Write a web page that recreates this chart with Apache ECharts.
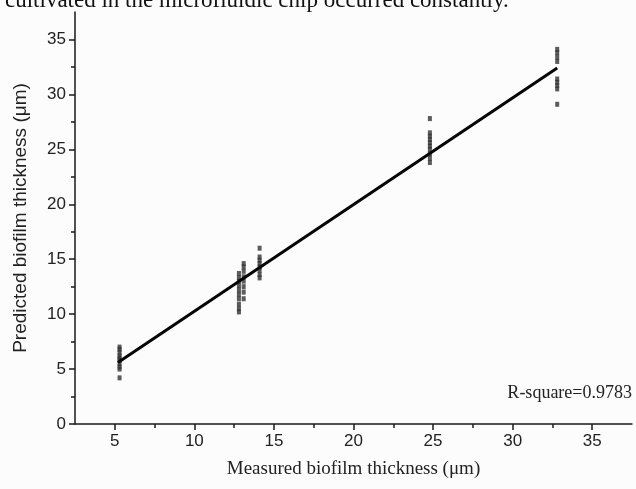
<!DOCTYPE html>
<html>
<head>
<meta charset="utf-8">
<script src="https://cdn.jsdelivr.net/npm/echarts@6/dist/echarts.min.js"></script>
<style>
  html, body { margin: 0; padding: 0; background: #fcfcfc; }
  #chart { width: 636px; height: 489px; }
</style>
</head>
<body>
<div id="chart"></div>
<script>
// measured thickness of each group (um) and the predicted values
const measured = [5.3, 12.8, 13.1, 14.1, 24.8, 32.8];
const predA = [7.0, 6.8, 6.5, 6.2, 6.0, 5.8, 5.5, 5.2, 5.0, 4.2];
const predB = [13.7, 13.3, 13.0, 12.6, 12.2, 11.8, 11.4, 10.9, 10.5, 10.2];
const predC = [14.6, 14.3, 13.9, 13.4, 13.0, 12.5, 12.0, 11.4];
const predD = [16.0, 15.2, 14.9, 14.6, 14.3, 14.0, 13.6, 13.3];
const predE = [27.8, 26.5, 26.2, 25.9, 25.6, 25.3, 25.0, 24.6, 24.2, 23.8];
const predF = [34.1, 33.8, 33.4, 33.0, 31.4, 31.1, 30.8, 30.5, 29.1];

// fitted line end points
const fitX = [5.2, 32.8];
const fitY = [5.6, 32.4];

const majorTicks = [5, 10, 15, 20, 25, 30, 35];
const minorX = [7.5, 12.5, 17.5, 22.5, 27.5, 32.5];
const minorY = [2.5, 7.5, 12.5, 17.5, 22.5, 27.5, 32.5];
const yMajor = [0, 5, 10, 15, 20, 25, 30, 35];

const groups = [predA, predB, predC, predD, predE, predF];
const points = [];
groups.forEach(function (g, i) {
  g.forEach(function (v) { points.push([measured[i], v]); });
});

const chart = echarts.init(document.getElementById('chart'));

const axisCol = '#1a1a1a';
const labelFont = { color: '#222', fontSize: 17, fontFamily: 'Liberation Sans, Arial, sans-serif' };

chart.setOption({
  backgroundColor: '#fcfcfc',
  animation: false,
  grid: { left: 75, right: 4, top: 12, bottom: 65 },
  graphic: [
    {
      type: 'text', left: 5, top: -11,
      style: {
        text: 'cultivated in the microfluidic chip occurred constantly.',
        font: '23px "Liberation Serif", serif', fill: '#111'
      }
    },
    {
      type: 'text', right: 4, top: 384,
      style: {
        text: 'R-square=0.9783',
        font: '18px "Liberation Serif", serif', fill: '#222'
      }
    }
  ],
  xAxis: [
    {
      type: 'value', min: 2.5, max: 37.5, position: 'bottom',
      name: 'Measured biofilm thickness (\u03bcm)',
      nameLocation: 'middle', nameGap: 36,
      nameTextStyle: { fontFamily: 'Liberation Serif, serif', fontSize: 19, color: '#222' },
      axisLine: { lineStyle: { color: axisCol, width: 1.5 } },
      axisTick: { show: true, length: 6, customValues: majorTicks, lineStyle: { color: axisCol, width: 1.5 } },
      axisLabel: Object.assign({ margin: 9, customValues: majorTicks }, labelFont),
      splitLine: { show: false }
    },
    {
      type: 'value', min: 2.5, max: 37.5, position: 'bottom',
      axisLine: { show: false },
      axisTick: { show: true, length: 4, customValues: minorX, lineStyle: { color: axisCol, width: 1.5 } },
      axisLabel: { show: false },
      splitLine: { show: false }
    }
  ],
  yAxis: [
    {
      type: 'value', min: 0, max: 37.5, position: 'left',
      name: 'Predicted biofilm thickness (\u03bcm)',
      nameLocation: 'middle', nameGap: 45,
      nameTextStyle: { fontFamily: 'Liberation Sans, Arial, sans-serif', fontSize: 19, color: '#222' },
      axisLine: { show: true, lineStyle: { color: axisCol, width: 1.5 } },
      axisTick: { show: true, length: 6, customValues: yMajor, lineStyle: { color: axisCol, width: 1.5 } },
      axisLabel: Object.assign({ margin: 9, customValues: yMajor }, labelFont),
      splitLine: { show: false }
    },
    {
      type: 'value', min: 0, max: 37.5, position: 'left',
      axisLine: { show: false },
      axisTick: { show: true, length: 4, customValues: minorY, lineStyle: { color: axisCol, width: 1.5 } },
      axisLabel: { show: false },
      splitLine: { show: false }
    }
  ],
  series: [
    {
      type: 'scatter',
      data: points,
      symbol: 'rect',
      symbolSize: [4, 5],
      itemStyle: { color: '#333' }
    },
    {
      type: 'line',
      data: fitX.map(function (x, i) { return [x, fitY[i]]; }),
      showSymbol: false,
      lineStyle: { color: '#050505', width: 3 }
    }
  ]
});
</script>
</body>
</html>
